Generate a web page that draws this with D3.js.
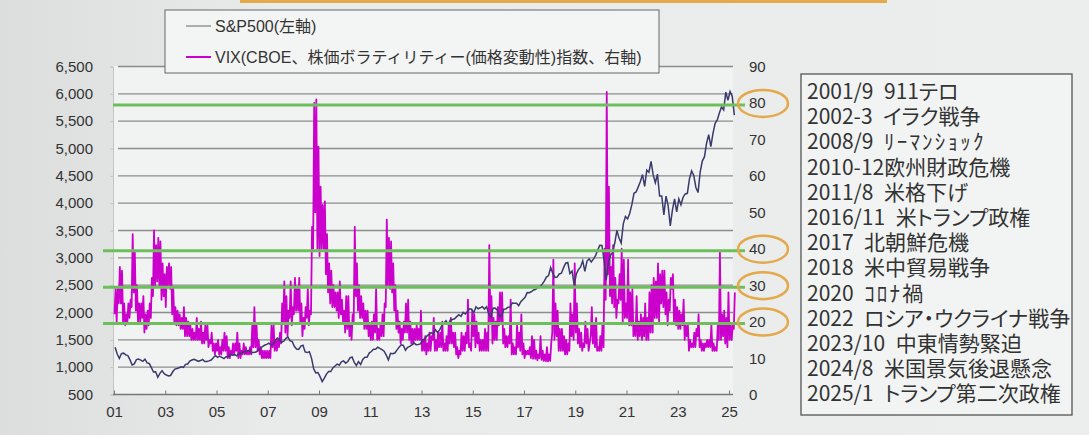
<!DOCTYPE html>
<html>
<head>
<meta charset="utf-8">
<script src="https://cdn.jsdelivr.net/npm/d3@7"></script>
<style>
  body { margin: 0; background: #e8e9e9; }
  svg { display: block; }
  text { font-family: "Liberation Sans", "Noto Sans CJK JP", sans-serif; fill: #333; }
  .jp { font-family: "Noto Sans CJK JP", sans-serif; white-space: pre; font-feature-settings: "palt"; }
</style>
</head>
<body>
<div id="grafica"></div>
<script>
  // S&P500 月末値 2001/1 - 2025/3
  const spx = [
    [1366, 1240, 1160, 1249, 1256, 1224, 1211, 1134, 1041, 1060, 1139, 1148],
    [1130, 1107, 1147, 1077, 1067, 990, 912, 916, 815, 886, 936, 880],
    [856, 841, 848, 916, 964, 975, 990, 1008, 996, 1051, 1058, 1112],
    [1131, 1145, 1126, 1107, 1121, 1141, 1102, 1104, 1115, 1130, 1174, 1212],
    [1181, 1204, 1181, 1157, 1192, 1191, 1234, 1220, 1229, 1207, 1249, 1248],
    [1280, 1281, 1295, 1311, 1270, 1270, 1277, 1304, 1336, 1378, 1401, 1418],
    [1438, 1407, 1421, 1482, 1531, 1503, 1455, 1474, 1527, 1549, 1481, 1468],
    [1378, 1331, 1323, 1386, 1400, 1280, 1267, 1283, 1166, 969, 896, 903],
    [826, 735, 798, 873, 919, 919, 987, 1021, 1057, 1036, 1096, 1115],
    [1074, 1104, 1169, 1187, 1089, 1031, 1102, 1049, 1141, 1183, 1181, 1258],
    [1286, 1327, 1326, 1364, 1345, 1321, 1292, 1219, 1131, 1253, 1247, 1258],
    [1312, 1366, 1408, 1398, 1310, 1362, 1379, 1407, 1441, 1412, 1416, 1426],
    [1498, 1515, 1569, 1598, 1631, 1606, 1686, 1633, 1682, 1757, 1806, 1848],
    [1783, 1859, 1872, 1884, 1924, 1960, 1931, 2003, 1972, 2018, 2068, 2059],
    [1995, 2105, 2068, 2086, 2107, 2063, 2104, 1972, 1920, 2079, 2080, 2044],
    [1940, 1932, 2060, 2065, 2097, 2099, 2174, 2171, 2168, 2126, 2199, 2239],
    [2279, 2364, 2363, 2384, 2412, 2423, 2470, 2472, 2519, 2575, 2648, 2674],
    [2824, 2714, 2641, 2648, 2705, 2718, 2816, 2902, 2914, 2712, 2760, 2507],
    [2704, 2784, 2834, 2946, 2752, 2942, 2980, 2926, 2977, 3038, 3141, 3231],
    [3226, 2954, 2585, 2912, 3044, 3100, 3271, 3500, 3363, 3270, 3622, 3756],
    [3714, 3811, 3973, 4181, 4204, 4298, 4395, 4523, 4308, 4605, 4567, 4766],
    [4516, 4374, 4530, 4132, 4132, 3785, 4130, 3955, 3586, 3872, 4080, 3840],
    [4077, 3970, 4109, 4169, 4180, 4450, 4589, 4508, 4288, 4194, 4568, 4770],
    [4846, 5096, 5254, 5036, 5278, 5460, 5522, 5648, 5762, 5705, 6032, 5882],
    [6041, 5955, 5612]
  ].flat();

  // VIX 月中の安値・高値 2001/1 - 2025/3
  const vixLow = [
    [22, 20, 25, 25, 20, 19, 20, 21, 24, 28, 23, 20],
    [20, 21, 17, 18, 19, 21, 27, 30, 31, 30, 26, 27],
    [24, 30, 29, 22, 20, 19, 19, 18, 18, 16, 16, 16],
    [15, 15, 15, 15, 15, 14, 14, 15, 13, 14, 12, 11],
    [12, 11, 11, 12, 12, 10, 10, 11, 11, 12, 10, 10],
    [11, 11, 11, 11, 11, 13, 13, 12, 11, 10, 10, 10],
    [10, 10, 13, 12, 12, 13, 14, 20, 17, 16, 21, 19],
    [22, 23, 23, 20, 16, 18, 21, 19, 22, 40, 50, 40],
    [38, 40, 40, 33, 28, 25, 24, 24, 23, 21, 22, 20],
    [17, 18, 16, 15, 20, 27, 23, 21, 21, 18, 18, 16],
    [15, 15, 17, 15, 15, 16, 16, 24, 30, 29, 28, 23],
    [18, 17, 14, 15, 17, 17, 15, 14, 14, 15, 15, 15],
    [12, 12, 11, 12, 12, 15, 12, 12, 13, 13, 12, 12],
    [12, 14, 14, 13, 11, 10, 11, 12, 12, 14, 13, 12],
    [16, 13, 14, 12, 12, 12, 12, 12, 20, 14, 15, 15],
    [19, 20, 14, 13, 13, 14, 11, 11, 11, 13, 12, 11],
    [10, 11, 11, 10, 9.8, 9.8, 9.4, 10, 9.5, 9.2, 9.1, 9.1],
    [9.2, 17, 15, 16, 12, 12, 12, 11, 11, 12, 16, 15],
    [17, 14, 13, 12, 13, 14, 12, 16, 14, 13, 12, 12],
    [12, 13, 26, 33, 27, 25, 24, 21, 25, 26, 20, 21],
    [21, 19, 19, 16, 16, 15, 16, 15, 16, 15, 15, 17],
    [17, 21, 21, 20, 25, 24, 22, 19, 23, 29, 20, 19],
    [18, 18, 19, 15, 16, 12, 13, 13, 13, 16, 13, 12],
    [12, 13, 13, 13, 12, 12, 12, 15, 15, 16, 14, 13],
    [15, 15, 18]
  ].flat();
  const vixHigh = [
    [29, 29, 35, 34, 25, 22, 25, 26, 44, 39, 30, 25],
    [25, 27, 22, 23, 25, 32, 45, 41, 43, 42, 36, 33],
    [35, 36, 35, 29, 24, 23, 22, 21, 24, 21, 20, 19],
    [18, 17, 21, 18, 20, 17, 19, 19, 15, 17, 14, 14],
    [15, 13, 15, 17, 16, 13, 12, 14, 14, 17, 14, 12],
    [14, 13, 12, 13, 19, 24, 19, 15, 13, 12, 12, 12],
    [12, 19, 19, 15, 15, 17, 25, 31, 27, 23, 31, 24],
    [32, 29, 32, 25, 21, 24, 29, 23, 46, 80, 81, 68],
    [57, 52, 53, 44, 36, 34, 30, 28, 28, 31, 26, 23],
    [27, 27, 19, 22, 46, 36, 30, 27, 25, 23, 23, 19],
    [20, 22, 29, 18, 19, 22, 25, 48, 43, 42, 36, 30],
    [23, 20, 18, 20, 25, 26, 20, 18, 18, 19, 18, 23],
    [15, 16, 14, 17, 16, 21, 15, 17, 17, 20, 14, 16],
    [19, 21, 17, 17, 13, 12, 17, 16, 17, 26, 14, 23],
    [22, 20, 17, 15, 15, 18, 17, 41, 27, 21, 20, 24],
    [28, 28, 18, 16, 16, 26, 14, 13, 19, 17, 22, 14],
    [12, 12, 13, 16, 15, 12, 11, 16, 12, 11, 13, 11],
    [14, 37, 25, 23, 18, 18, 16, 15, 14, 25, 22, 36],
    [25, 18, 17, 14, 20, 18, 14, 24, 19, 21, 13, 16],
    [19, 40, 83, 57, 35, 41, 32, 26, 33, 40, 37, 25],
    [37, 28, 29, 19, 27, 20, 22, 21, 25, 21, 28, 30],
    [32, 31, 36, 33, 34, 34, 28, 26, 32, 33, 26, 24],
    [23, 22, 26, 19, 19, 15, 14, 17, 18, 22, 15, 14],
    [14, 15, 15, 19, 14, 13, 19, 39, 22, 23, 21, 28],
    [19, 19, 28]
  ].flat();

  const yearTicks = [2001, 2003, 2005, 2007, 2009, 2011, 2013, 2015, 2017, 2019, 2021, 2023, 2025];
  const leftTicks = [500, 1000, 1500, 2000, 2500, 3000, 3500, 4000, 4500, 5000, 5500, 6000, 6500];
  const rightTicks = [0, 10, 20, 30, 40, 50, 60, 70, 80, 90];
  const refLevels = [80, 40, 30, 20];
  const legendLabels = ["S&P500(左軸)", "VIX(CBOE、株価ボラティリティー(価格変動性)指数、右軸)"];
  const events = [
    "2001/9\u2002911テロ",
    "2002-3\u2002イラク戦争",
    "2008/9\u2002ﾘｰﾏﾝｼｮｯｸ",
    "2010-12欧州財政危機",
    "2011/8\u2002米格下げ",
    "2016/11\u2002米トランプ政権",
    "2017\u2002北朝鮮危機",
    "2018\u2002米中貿易戦争",
    "2020\u2002ｺﾛﾅ禍",
    "2022\u2002ロシア・ウクライナ戦争",
    "2023/10\u2002中東情勢緊迫",
    "2024/8\u2002米国景気後退懸念",
    "2025/1\u2002トランプ第二次政権"
  ];

  const width = 1089, height = 435;
  const colSpx = "#3a3a6c", colVix = "#cc00cc", colGreen = "#6cbf5a", colOrange = "#e3a94a";

  const svg = d3.select("#grafica").append("svg")
    .attr("width", width).attr("height", height);

  // 背景（写真のような明暗）
  const grad = svg.append("defs").append("linearGradient").attr("id", "bg");
  grad.append("stop").attr("offset", "0%").attr("stop-color", "#dcdddd");
  grad.append("stop").attr("offset", "25%").attr("stop-color", "#e9eaea");
  grad.append("stop").attr("offset", "100%").attr("stop-color", "#eceded");
  svg.append("rect").attr("width", width).attr("height", height).attr("fill", "url(#bg)");

  // 上端のオレンジ帯
  svg.append("rect").attr("x", 240).attr("y", 0).attr("width", 647).attr("height", 3).attr("fill", colOrange);

  const x = d3.scaleLinear().domain([2001, 2025]).range([114, 729]);
  const yL = d3.scaleLinear().domain([500, 6500]).range([394.5, 66.5]);
  const yR = d3.scaleLinear().domain([0, 90]).range([394.5, 66.5]);

  // プロット領域
  svg.append("rect").attr("x", 113).attr("y", 66).attr("width", 620).attr("height", 329).attr("fill", "#f1f2f2");

  // グリッド線
  svg.append("g")
    .selectAll("line")
    .data(leftTicks.slice(1))
    .enter()
    .append("line")
    .attr("x1", 118).attr("x2", 733)
    .attr("y1", d => yL(d)).attr("y2", d => yL(d))
    .attr("stroke", "#8c8c8c").attr("stroke-width", 1.3);

  // 左軸
  const axL = svg.append("g").attr("transform", "translate(113,0)")
    .call(d3.axisLeft(yL).tickValues(leftTicks).tickSize(3).tickPadding(17).tickFormat(d3.format(",")));
  axL.select(".domain").attr("stroke", "#c4c4c4");
  axL.selectAll(".tick line").attr("stroke", "#c4c4c4");
  axL.selectAll("text").attr("font-size", 15).attr("fill", "#333");

  // 右軸（目盛ラベルのみ）
  svg.append("g")
    .selectAll("text")
    .data(rightTicks)
    .enter()
    .append("text")
    .attr("x", 749)
    .attr("y", d => yR(d) + 5.5)
    .attr("font-size", 15)
    .text(d => d);

  // 下軸
  const axB = svg.append("g").attr("transform", "translate(0,394.5)")
    .call(d3.axisBottom(x).tickValues(yearTicks).tickSize(-4).tickPadding(12)
      .tickFormat(d => String(d % 100).padStart(2, "0")));
  axB.select(".domain").attr("stroke", "#777").attr("stroke-width", 1.3).attr("d", "M113,0H733");
  axB.selectAll(".tick line").attr("stroke", "#777");
  axB.selectAll("text").attr("font-size", 15).attr("fill", "#333");

  // VIX（月中の安値と高値を交互に結ぶ）
  const vixPts = [];
  vixLow.forEach((lo, i) => {
    vixPts.push([2001 + (i + 0.25) / 12, lo]);
    vixPts.push([2001 + (i + 0.75) / 12, vixHigh[i]]);
  });
  svg.append("path")
    .datum(vixPts)
    .attr("d", d3.line().x(d => x(d[0])).y(d => yR(d[1])))
    .attr("fill", "none")
    .attr("stroke", colVix)
    .attr("stroke-width", 1.8)
    .attr("stroke-linejoin", "round");

  // S&P500
  svg.append("path")
    .datum(spx)
    .attr("d", d3.line().x((d, i) => x(2001 + (i + 0.5) / 12)).y(d => yL(d)))
    .attr("fill", "none")
    .attr("stroke", colSpx)
    .attr("stroke-width", 1.5);

  // 緑の水平線と丸印
  svg.append("g")
    .selectAll("line")
    .data(refLevels)
    .enter()
    .append("line")
    .attr("x1", (d, i) => i == 0 ? 113 : 103)
    .attr("x2", 745)
    .attr("y1", d => yR(d) + 2).attr("y2", d => yR(d) + 2)
    .attr("stroke", colGreen).attr("stroke-width", 3);

  svg.append("g")
    .selectAll("ellipse")
    .data(refLevels)
    .enter()
    .append("ellipse")
    .attr("cx", 763).attr("cy", d => yR(d) + 0.5)
    .attr("rx", 25).attr("ry", 13.5)
    .attr("fill", "none")
    .attr("stroke", colOrange).attr("stroke-width", 2.5);

  // 凡例
  const legend = svg.append("g");
  legend.append("rect")
    .attr("x", 165).attr("y", 10).attr("width", 494).attr("height", 63)
    .attr("fill", "#f3f4f4").attr("stroke", "#666").attr("stroke-width", 1);
  legend.selectAll("line")
    .data(legendLabels)
    .enter()
    .append("line")
    .attr("x1", 186).attr("x2", 211)
    .attr("y1", (d, i) => 26 + i * 31).attr("y2", (d, i) => 26 + i * 31)
    .attr("stroke", (d, i) => i == 0 ? "#666" : colVix)
    .attr("stroke-width", (d, i) => i == 0 ? 1 : 2);
  legend.selectAll("text")
    .data(legendLabels)
    .enter()
    .append("text")
    .attr("x", 215)
    .attr("y", (d, i) => 32 + i * 31)
    .attr("font-size", 16)
    .attr("fill", "#333")
    .text(d => d);

  // イベント一覧
  const box = svg.append("g");
  box.append("rect")
    .attr("x", 801).attr("y", 74).attr("width", 271).attr("height", 341)
    .attr("fill", "#f2f3f3").attr("stroke", "#555").attr("stroke-width", 1.3);
  const lines = box.selectAll("text")
    .data(events)
    .enter()
    .append("text")
    .attr("class", "jp")
    .attr("x", 807)
    .attr("y", (d, i) => 99 + i * 25.2)
    .attr("font-size", 21)
    .attr("fill", "#222");

  // 半角カナは少し字間を広げる
  lines.each(function (d) {
    const runs = d.match(/[\uFF61-\uFF9F]+|[^\uFF61-\uFF9F]+/g);
    d3.select(this).selectAll("tspan")
      .data(runs)
      .enter()
      .append("tspan")
      .attr("letter-spacing", r => /[\uFF61-\uFF9F]/.test(r) ? 2.2 : 0)
      .text(r => r);
  });
</script>
</body>
</html>
